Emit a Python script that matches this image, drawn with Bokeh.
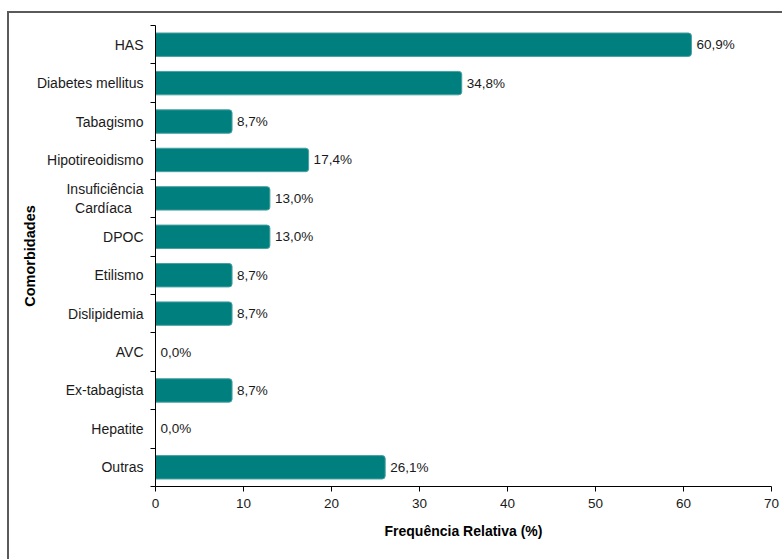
from bokeh.plotting import figure
from bokeh.models import Range1d, FixedTicker, ColumnDataSource
from bokeh.embed import file_html
from bokeh.resources import INLINE
from bokeh.core.properties import value

categories = ["HAS", "Diabetes mellitus", "Tabagismo", "Hipotireoidismo",
              "Insuficiência\nCardíaca\u00a0\u00a0\u00a0", "DPOC", "Etilismo", "Dislipidemia",
              "AVC", "Ex-tabagista", "Hepatite", "Outras"]
values = [60.9, 34.8, 8.7, 17.4, 13.0, 13.0, 8.7, 8.7, 0.0, 8.7, 0.0, 26.1]
x_ticks = [0, 10, 20, 30, 40, 50, 60, 70]

n = len(categories)
ypos = [2 * (n - 1 - i) + 1 for i in range(n)]
labels = [f"{v:.1f}".replace(".", ",") + "%" for v in values]

src = ColumnDataSource(dict(y=ypos, v=values, lab=labels))

FONT = "Liberation Sans"

p = figure(width=775, height=548, output_backend="svg", toolbar_location=None,
           x_range=Range1d(0, 70), y_range=Range1d(0, 2 * n),
           min_border_left=146, min_border_right=13, min_border_top=12, min_border_bottom=75)
p.styles = {"margin-left": "7px", "margin-top": "11px",
            "border-left": "2px solid #5a5a5a", "border-top": "2px solid #5a5a5a"}
p.outline_line_color = None
p.xgrid.visible = False
p.ygrid.visible = False

p.hbar(y="y", right="v", left=0, height=1.22, source=src,
       fill_color="#007F7F", line_color="#4aa0a0", line_width=1,
       border_radius=(0, 3, 3, 0))
p.text(x="v", y="y", text="lab", source=src, x_offset=5,
       text_baseline="middle", text_align="left",
       text_font=value(FONT), text_font_size="13.5px", text_color="#1a1a1a")

# x axis
xa = p.xaxis[0]
xa.ticker = FixedTicker(ticks=x_ticks)
xa.axis_label = "Frequência Relativa (%)"
xa.axis_label_text_font = FONT
xa.axis_label_text_font_style = "bold"
xa.axis_label_text_font_size = "14px"
xa.axis_label_text_color = "#000000"
xa.axis_label_standoff = 12
xa.major_label_text_font = FONT
xa.major_label_text_font_size = "13.5px"
xa.major_label_text_color = "#1a1a1a"
xa.major_label_standoff = 7
xa.major_tick_out = 5
xa.major_tick_in = 0
xa.minor_tick_out = 0
xa.minor_tick_in = 0
xa.axis_line_color = "#000000"
xa.major_tick_line_color = "#000000"

# y axis: labels at row centers, tick marks at row boundaries
ya = p.yaxis[0]
ya.ticker = FixedTicker(ticks=ypos, minor_ticks=list(range(0, 2 * n + 1, 2)))
ya.major_label_overrides = {yv: c for yv, c in zip(ypos, categories)}
ya.major_tick_out = 0
ya.major_tick_in = 0
ya.minor_tick_out = 5
ya.minor_tick_in = 0
ya.minor_tick_line_color = "#000000"
ya.axis_line_color = "#000000"
ya.major_label_standoff = 7
ya.major_label_text_font = FONT
ya.major_label_text_font_size = "14px"
ya.major_label_text_color = "#1a1a1a"
ya.axis_label = "Comorbidades"
ya.axis_label_text_font = FONT
ya.axis_label_text_font_style = "bold"
ya.axis_label_text_font_size = "14.5px"
ya.axis_label_text_color = "#000000"
ya.axis_label_standoff = -4

open("out.html", "w").write(file_html(p, INLINE))
